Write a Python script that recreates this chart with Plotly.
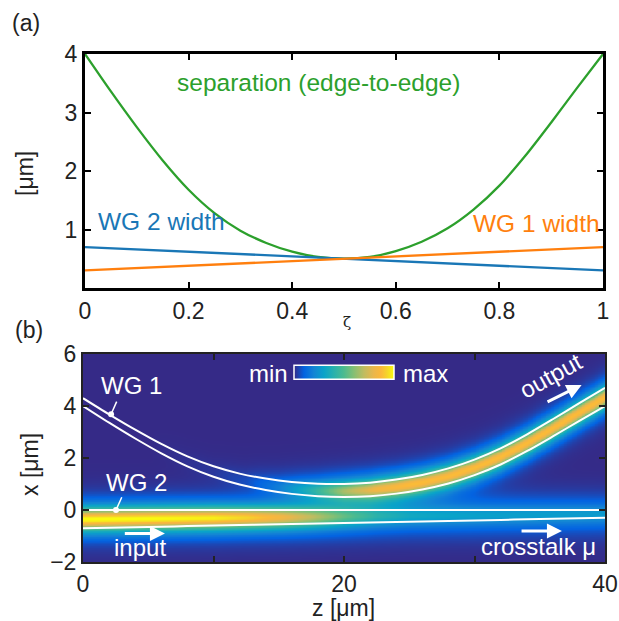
import numpy as np
import plotly.graph_objects as go

# ---------------- data ----------------
zeta = [0.0, 0.05, 0.1, 0.15, 0.2, 0.25, 0.3, 0.35, 0.4, 0.45, 0.5,
        0.55, 0.6, 0.65, 0.7, 0.75, 0.8, 0.85, 0.9, 0.95, 1.0]
separation = [4.0, 3.36, 2.75, 2.18, 1.68, 1.28, 0.98, 0.77, 0.62, 0.53, 0.50,
              0.53, 0.63, 0.79, 1.02, 1.34, 1.75, 2.26, 2.83, 3.42, 4.0]
wg1_width = [0.30, 0.32, 0.34, 0.36, 0.38, 0.40, 0.42, 0.44, 0.46, 0.48, 0.50,
             0.52, 0.54, 0.56, 0.58, 0.60, 0.62, 0.64, 0.66, 0.68, 0.70]
wg2_width = [0.70, 0.68, 0.66, 0.64, 0.62, 0.60, 0.58, 0.56, 0.54, 0.52, 0.50,
             0.48, 0.46, 0.44, 0.42, 0.40, 0.38, 0.36, 0.34, 0.32, 0.30]

device_length = 40.0  # z range [um]

# field amplitudes along z (normalised |E|)
z_amp = [0, 5, 10, 12.5, 15, 17.5, 20, 22.5, 25, 30, 35, 40]
amp_wg2 = [1.0, 1.0, 0.98, 0.93, 0.82, 0.65, 0.45, 0.30, 0.24, 0.22, 0.22, 0.22]
amp_wg1 = [0.0, 0.0, 0.02, 0.05, 0.15, 0.35, 0.62, 0.80, 0.86, 0.88, 0.88, 0.88]
amp_rad = [0.0, 0.0, 0.0, 0.0, 0.02, 0.04, 0.06, 0.07, 0.07, 0.07, 0.06, 0.05]

x_ticks_a = [0, 0.2, 0.4, 0.6, 0.8, 1]
x_ticktext_a = ["0", "0.2", "0.4", "0.6", "0.8", "1"]
y_ticks_a = [1, 2, 3, 4]
x_ticks_b = [0, 10, 20, 30, 40]
x_ticktext_b = ["0", "", "20", "", "40"]
y_ticks_b = [-2, 0, 2, 4, 6]

# ---------------- style ----------------
W, H = 619, 621
FONT = "Liberation Sans, Arial, sans-serif"
C_BLUE = "#1a77b6"
C_ORANGE = "#ff7f0e"
C_GREEN = "#2ca02c"
parula = [[0.0, "#352a87"], [0.1, "#0363e1"], [0.2, "#1485d4"], [0.3, "#09a3c9"],
          [0.4, "#29b1ac"], [0.5, "#4cbb8f"], [0.6, "#86bf73"], [0.7, "#c0bc60"],
          [0.8, "#ebb64a"], [0.87, "#fbb83a"], [0.93, "#f5d42a"], [1.0, "#f9fb0e"]]


def px(x):
    return x / W


def py(y):
    return 1 - y / H


fig = go.Figure()

# ---------------- panel (a) ----------------
fig.add_trace(go.Scatter(x=zeta, y=separation, mode="lines",
                         line=dict(color=C_GREEN, width=2.3, shape="spline", smoothing=0.8),
                         xaxis="x", yaxis="y", showlegend=False))
fig.add_trace(go.Scatter(x=zeta, y=wg2_width, mode="lines", line=dict(color=C_BLUE, width=2.3),
                         xaxis="x", yaxis="y", showlegend=False))
fig.add_trace(go.Scatter(x=zeta, y=wg1_width, mode="lines", line=dict(color=C_ORANGE, width=2.3),
                         xaxis="x", yaxis="y", showlegend=False))

# ---------------- panel (b) heatmap ----------------
zg = np.linspace(0, device_length, 321)
xg = np.linspace(-2, 6, 321)
zeta_g = zg / device_length
sep_g = np.interp(zeta_g, zeta, separation)
w1_g = np.interp(zeta_g, zeta, wg1_width)
w2_g = np.interp(zeta_g, zeta, wg2_width)
c1 = sep_g + w1_g / 2
c2 = -w2_g / 2
a1 = np.interp(zg, z_amp, amp_wg1)
a2 = np.interp(zg, z_amp, amp_wg2)
ar = np.interp(zg, z_amp, amp_rad)
X = xg[:, None]
field = (a2[None, :] / np.cosh((X - c2[None, :]) / 0.28)
         + a1[None, :] / np.cosh((X - c1[None, :]) / 0.27)
         + ar[None, :] * np.exp(-((X + 0.2) / 0.9) ** 2))
field = np.clip(field, 0, 1)

fig.add_trace(go.Heatmap(
    x=zg, y=xg, z=field, zmin=0, zmax=1, colorscale=parula, zsmooth="best",
    xaxis="x2", yaxis="y2",
    colorbar=dict(orientation="h", lenmode="pixels", len=100, thickness=14,
                  x=px(343.5), xanchor="center", y=py(372.5), yanchor="middle",
                  outlinecolor="white", outlinewidth=1.5, showticklabels=False, ticks="",
                  xpad=0, ypad=0, borderwidth=0),
))

# waveguide outlines
z_wg = [device_length * v for v in zeta]
wg1_low = separation
wg1_up = [s + w for s, w in zip(separation, wg1_width)]
wg2_up = [0.0 for _ in zeta]
wg2_low = [-w for w in wg2_width]
for yy in (wg1_low, wg1_up, wg2_up, wg2_low):
    fig.add_trace(go.Scatter(x=z_wg, y=yy, mode="lines",
                             line=dict(color="white", width=2, shape="spline", smoothing=0.8),
                             xaxis="x2", yaxis="y2", showlegend=False, hoverinfo="skip"))

# pointers for WG labels
fig.add_trace(go.Scatter(x=[2.15, 2.58], y=[3.68, 4.17], mode="lines", line=dict(color="white", width=1.5),
                         xaxis="x2", yaxis="y2", showlegend=False))
fig.add_trace(go.Scatter(x=[2.53, 2.97], y=[0.0, 0.49], mode="lines", line=dict(color="white", width=1.5),
                         xaxis="x2", yaxis="y2", showlegend=False))
fig.add_trace(go.Scatter(x=[2.15, 2.53], y=[3.68, 0.0], mode="markers", marker=dict(color="white", size=6),
                         xaxis="x2", yaxis="y2", showlegend=False))

ann = []


def pa(text, x, y, size=23, color="#222", angle=0, family=None):
    f = dict(size=size, color=color)
    if family:
        f["family"] = family
    ann.append(dict(text=text, x=px(x), y=py(y), xref="paper", yref="paper", showarrow=False,
                    xanchor="center", yanchor="middle", textangle=angle, font=f))


def da(text, x, y, ref, size=24, color="white", angle=0):
    ann.append(dict(text=text, x=x, y=y, xref="x" + ref, yref="y" + ref, showarrow=False,
                    xanchor="center", yanchor="middle", textangle=angle, font=dict(size=size, color=color)))


# panel labels
pa("(a)", 26, 23)
pa("(b)", 29, 330)
# axis titles
pa("[μm]", 25, 174, angle=-90)
pa("ζ", 347, 322, size=15, family="DejaVu Serif")
pa("x [μm]", 30, 465, angle=-90)
pa("z [μm]", 343, 608)
# colorbar end labels
pa("min", 268, 373, size=24, color="white")
pa("max", 425, 373, size=24, color="white")
# panel (a) labels
da("separation (edge-to-edge)", 0.451, 3.52, "", color=C_GREEN, size=24.5)
da("WG 2 width", 0.147, 1.14, "", color=C_BLUE, size=24.5)
da("WG 1 width", 0.872, 1.10, "", color=C_ORANGE, size=24.5)
# panel (b) labels
da("WG 1", 3.7, 4.8, "2")
da("WG 2", 4.1, 1.06, "2")
da("input", 4.37, -1.44, "2")
da("crosstalk μ", 34.9, -1.42, "2")
da("output", 35.86, 5.19, "2", angle=-29)
# arrows
for (x0, y0, x1, y1) in [(3.09, -0.9, 6.28, -0.9), (33.49, -0.81, 36.7, -0.81), (35.48, 4.13, 38.21, 4.81)]:
    ann.append(dict(text="", x=x1, y=y1, ax=x0, ay=y0, xref="x2", yref="y2", axref="x2", ayref="y2",
                    showarrow=True, arrowhead=2, arrowsize=1, arrowwidth=3, arrowcolor="white",
                    standoff=0, startstandoff=0))

tickfont = dict(size=23, color="#222", family=FONT)
common = dict(showgrid=False, zeroline=False, showline=True, mirror="allticks", ticks="inside",
              tickfont=tickfont, ticklen=6, tickwidth=2, automargin=False)

fig.update_layout(
    width=W, height=H, margin=dict(l=0, r=0, t=0, b=0, autoexpand=False),
    paper_bgcolor="white", plot_bgcolor="white",
    font=dict(family=FONT),
    showlegend=False,
    xaxis=dict(domain=[px(85), px(603)], range=[0, 1], anchor="y", tickvals=x_ticks_a,
               ticktext=x_ticktext_a,
               linecolor="black", linewidth=3, tickcolor="black", **common),
    yaxis=dict(domain=[py(288), py(54)], range=[0, 4], anchor="x", tickvals=y_ticks_a,
               linecolor="black", linewidth=3, tickcolor="black", **common),
    xaxis2=dict(domain=[px(83), px(605)], range=[0, 40], anchor="y2", tickvals=x_ticks_b,
                ticktext=x_ticktext_b, linecolor="#222", linewidth=2, tickcolor="#222", **common),
    yaxis2=dict(domain=[py(562), py(354)], range=[-2, 6], anchor="x2", tickvals=y_ticks_b,
                linecolor="#222", linewidth=2, tickcolor="#222", **common),
    annotations=ann,
)

fig.write_html("out.html", config=dict(displayModeBar=False))
